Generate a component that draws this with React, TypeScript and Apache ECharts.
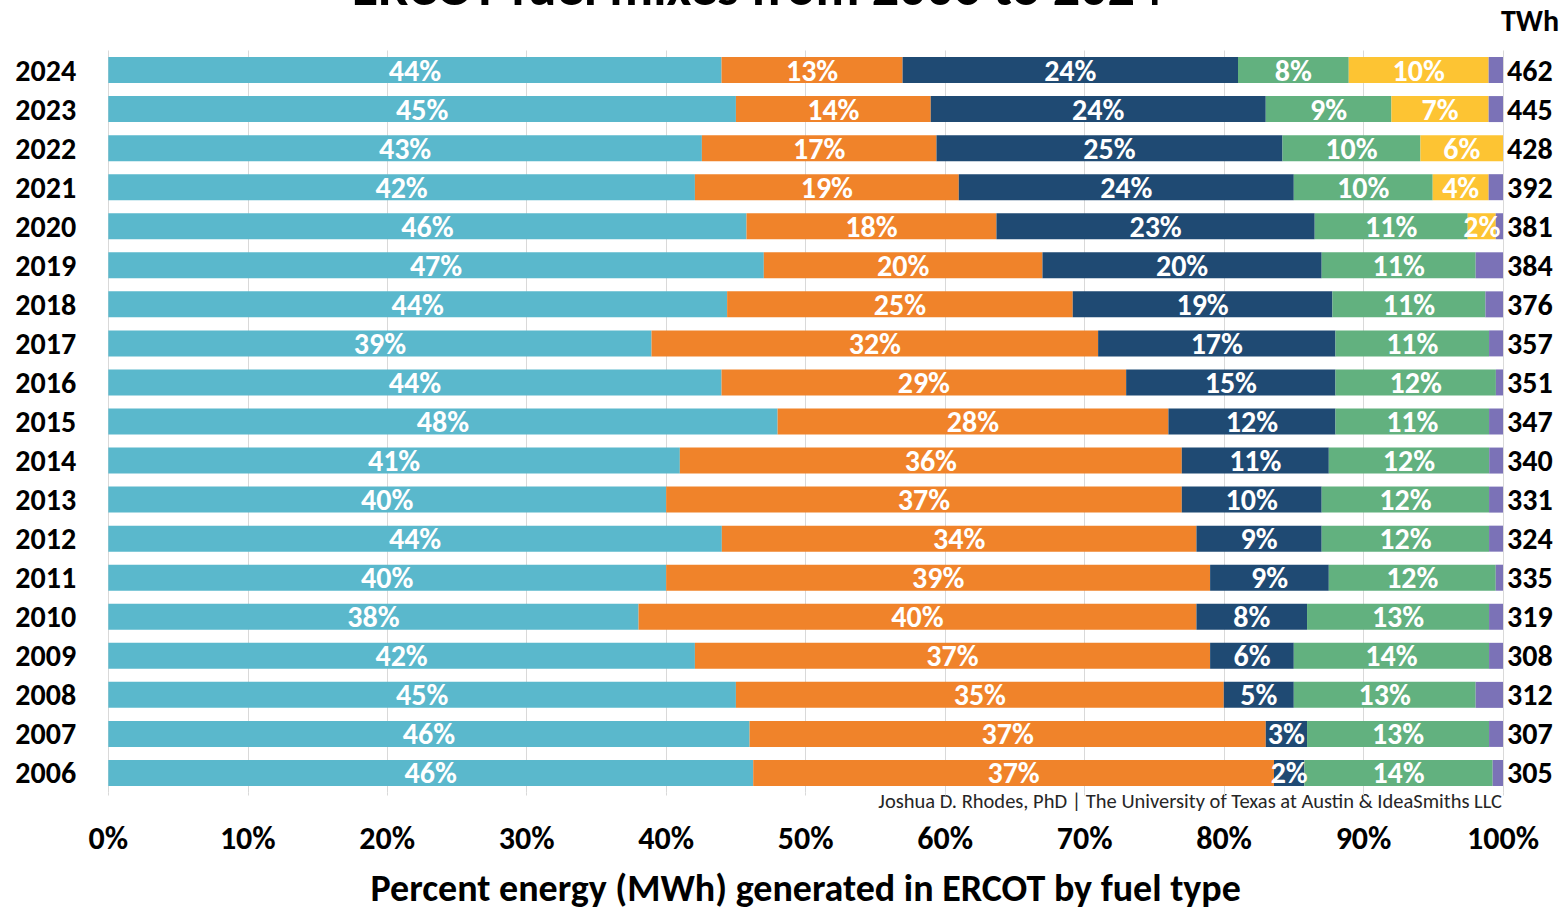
import React, { useEffect, useRef } from "react";
import * as echarts from "echarts";

// Years, oldest first (the category axis draws the first entry at the bottom)
const years = ["2006", "2007", "2008", "2009", "2010", "2011", "2012", "2013", "2014", "2015", "2016", "2017", "2018", "2019", "2020", "2021", "2022", "2023", "2024"];

// Share of annual generation (%) by fuel
const gas = [46.24, 45.98, 45.0, 42.06, 38.02, 40.0, 43.99, 40.0, 40.98, 47.99, 43.97, 38.95, 44.37, 47.0, 45.76, 42.06, 42.56, 45.0, 43.97];
const coal = [37.34, 37.01, 34.98, 36.94, 40.0, 39.0, 34.03, 36.97, 35.99, 28.02, 29.01, 32.02, 24.78, 19.98, 17.92, 18.92, 16.82, 13.97, 12.98];
const wind = [2.18, 2.96, 5.02, 6.0, 7.93, 8.51, 8.98, 10.03, 10.54, 11.98, 15.01, 17.02, 18.62, 20.02, 22.82, 24.02, 24.81, 24.02, 24.05];
const nuclear = [13.5, 13.05, 13.04, 14.0, 13.05, 11.97, 12.0, 12.0, 11.5, 11.01, 11.5, 11.01, 10.97, 11.04, 10.97, 9.96, 9.89, 9.01, 7.94];
const solar = [0, 0, 0, 0, 0, 0, 0, 0, 0, 0, 0, 0, 0, 0, 2.01, 4.01, 5.92, 6.97, 10.03];
const other = [0.74, 1.0, 1.96, 1.0, 1.0, 0.52, 1.0, 1.0, 0.99, 1.0, 0.51, 1.0, 1.26, 1.96, 0.52, 1.03, 0, 1.03, 1.03];

// Total annual generation (TWh)
const totalTWh = ["305", "307", "312", "308", "319", "335", "324", "331", "340", "347", "351", "357", "376", "384", "381", "392", "428", "445", "462"];

const xTicks = [0, 10, 20, 30, 40, 50, 60, 70, 80, 90, 100];

const FONT = "Carlito, 'Open Sans', 'Noto Sans', sans-serif";

const fuels = [
  { name: "Natural gas", data: gas, color: "#5ab8cc", labelled: true },
  { name: "Coal", data: coal, color: "#f0832a", labelled: true },
  { name: "Wind", data: wind, color: "#1f4a73", labelled: true },
  { name: "Nuclear", data: nuclear, color: "#62b17f", labelled: true },
  { name: "Solar", data: solar, color: "#fdc433", labelled: true },
  { name: "Other", data: other, color: "#7b72b7", labelled: false },
];

export default function App() {
  const ref = useRef<HTMLDivElement>(null);

  useEffect(() => {
    if (!ref.current) return;
    const chart = echarts.init(ref.current, undefined, { renderer: "svg" });

    const series = fuels.map((f) => ({
      name: f.name,
      type: "bar",
      stack: "mix",
      barWidth: 26,
      data: f.data,
      itemStyle: { color: f.color },
      label: {
        show: f.labelled,
        position: "inside",
        color: "#ffffff",
        fontFamily: FONT,
        fontWeight: "bold",
        fontSize: 30,
        lineHeight: 28,
        formatter: (p: any) => (p.value >= 1.5 ? Math.round(p.value) + "%" : ""),
      },
      emphasis: { disabled: true },
    }));

    chart.setOption({
      animation: false,
      backgroundColor: "#ffffff",
      textStyle: { fontFamily: FONT },
      grid: {
        left: 108.3,
        right: 60,
        top: 50.5,
        bottom: 116.5,
        containLabel: false,
        outerBoundsMode: "none",
      },
      xAxis: {
        type: "value",
        min: xTicks[0],
        max: xTicks[xTicks.length - 1],
        interval: 10,
        axisLine: { show: false },
        axisTick: { show: true, length: 3, lineStyle: { color: "#d9d9d9" } },
        splitLine: { show: true, lineStyle: { color: "#d9d9d9", width: 1 } },
        axisLabel: {
          formatter: "{value}%",
          color: "#000000",
          fontFamily: FONT,
          fontWeight: "bold",
          fontSize: 32,
          margin: 30,
        },
        name: "Percent energy (MWh) generated in ERCOT by fuel type",
        nameLocation: "middle",
        nameGap: 76,
        nameTextStyle: {
          color: "#000000",
          fontFamily: FONT,
          fontWeight: "bold",
          fontSize: 38,
          lineHeight: 38,
        },
      },
      yAxis: [
        {
          type: "category",
          data: years,
          position: "left",
          axisLine: { show: false },
          axisTick: { show: false },
          axisLabel: {
            interval: 0,
            align: "left",
            margin: 93,
            color: "#000000",
            fontFamily: FONT,
            fontWeight: "bold",
            fontSize: 30,
          },
        },
        {
          type: "category",
          data: totalTWh,
          position: "right",
          axisLine: { show: false },
          axisTick: { show: false },
          axisLabel: {
            interval: 0,
            margin: 4,
            color: "#000000",
            fontFamily: FONT,
            fontWeight: "bold",
            fontSize: 30,
          },
        },
      ],
      series,
      graphic: [
        {
          type: "text",
          x: 757,
          y: -13,
          style: {
            text: "ERCOT fuel mixes from 2006 to 2024",
            fill: "#000000",
            font: `bold 54px ${FONT}`,
            textAlign: "center",
            textVerticalAlign: "middle",
          },
        },
        {
          type: "text",
          x: 1530,
          y: 20,
          style: {
            text: "TWh",
            fill: "#000000",
            font: `bold 30px ${FONT}`,
            textAlign: "center",
            textVerticalAlign: "middle",
          },
        },
        {
          type: "text",
          x: 1502,
          y: 801,
          style: {
            text: "Joshua D. Rhodes, PhD | The University of Texas at Austin & IdeaSmiths LLC",
            fill: "#262626",
            font: `20.5px ${FONT}`,
            textAlign: "right",
            textVerticalAlign: "middle",
          },
        },
      ],
    });

    return () => chart.dispose();
  }, []);

  return (
    <div
      ref={ref}
      style={{ position: "fixed", left: 0, top: 0, width: 1563, height: 909, background: "#ffffff" }}
    />
  );
}
